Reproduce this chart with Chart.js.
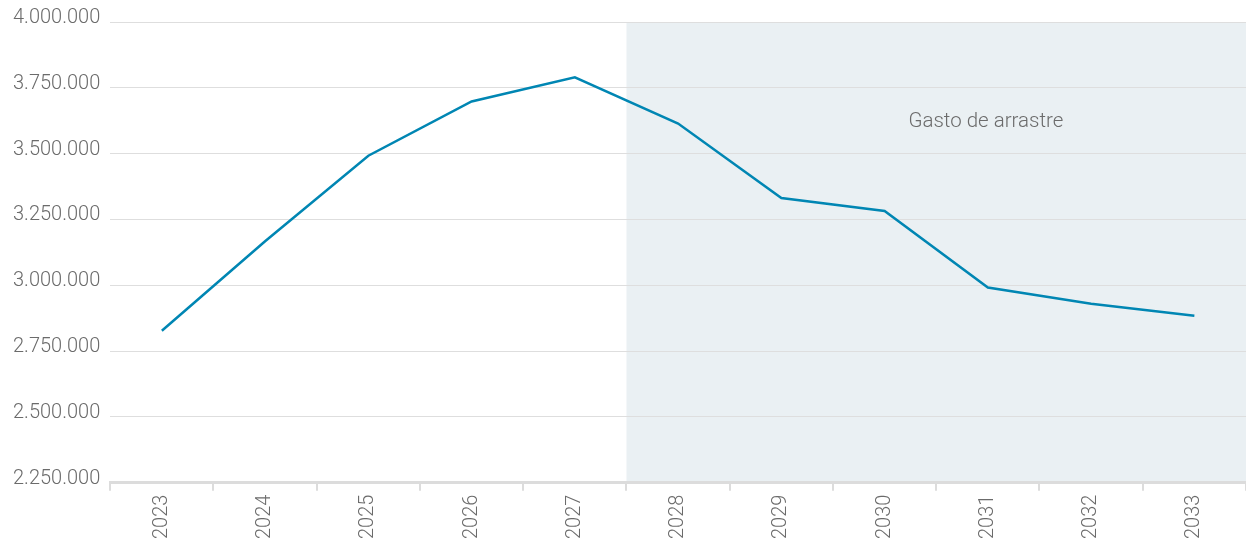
<!DOCTYPE html>
<html>
<head>
<meta charset="utf-8">
<script src="https://cdn.jsdelivr.net/npm/chart.js@4"></script>
<style>
    body{ margin:0; background:#fff; }
    #wrap{ width:1246px; height:546px; }
</style>
</head>
<body>
<div id="wrap"><canvas id="gasto" width="1246" height="546"></canvas></div>
<script>
// años
const years = ['2023','2024','2025','2026','2027','2028','2029','2030','2031','2032','2033'];
// gasto por año
const gasto = [2827000, 3167000, 3492000, 3698000, 3790000, 3614000, 3331000, 3282000, 2991000, 2930000, 2884000];
// escala vertical
const yMin = 2250000;
const yMax = 4000000;
const yStep = 250000;
// zona sombreada desde este año
const arrastreDesde = '2028';
const arrastreTexto = 'Gasto de arrastre';

const fmt = v => v.toLocaleString('de-DE');

// fondo gris del gasto de arrastre
const zonaArrastre = {
    id: 'zonaArrastre',
    beforeDraw(chart){
        const { ctx, chartArea, scales } = chart;
        const i = years.indexOf(arrastreDesde);
        const x0 = (scales.x.getPixelForValue(i - 1) + scales.x.getPixelForValue(i)) / 2;
        ctx.save();
        ctx.fillStyle = '#eaf0f3';
        ctx.fillRect(x0, chartArea.top, chartArea.right - x0, chartArea.bottom - chartArea.top);
        ctx.fillStyle = '#6b6b6b';
        ctx.font = '300 20.5px Roboto';
        ctx.textAlign = 'center';
        ctx.textBaseline = 'middle';
        ctx.fillText(arrastreTexto, scales.x.getPixelForValue(8) - 2, scales.y.getPixelForValue(3620000));
        ctx.restore();
    }
};

new Chart(document.getElementById('gasto'), {
    type: 'line',
    data: {
        labels: years,
        datasets: [{
            data: gasto,
            borderColor: '#0086b3',
            borderWidth: 2.5,
            pointRadius: 0,
            tension: 0,
        }]
    },
    options: {
        responsive: false,
        animation: false,
        layout: { padding: { top: 4, right: 0, left: 3, bottom: 3 } },
        plugins: {
            legend: { display: false },
            tooltip: { enabled: false },
        },
        scales: {
            x: {
                offset: true,
                grid: {
                    offset: true,
                    drawOnChartArea: false,
                    drawTicks: true,
                    tickLength: 8,
                    color: '#dcdcdc',
                    lineWidth: 2,
                },
                border: { color: '#dcdcdc', width: 3 },
                ticks: {
                    minRotation: 90,
                    maxRotation: 90,
                    padding: 4,
                    color: '#6b6b6b',
                    font: { family: 'Roboto', size: 20, weight: '300' },
                },
            },
            y: {
                min: yMin,
                max: yMax,
                grid: { color: '#dedede', drawTicks: false, lineWidth: 1 },
                border: { display: false },
                ticks: {
                    stepSize: yStep,
                    padding: 10,
                    labelOffset: -4,
                    color: '#6b6b6b',
                    font: { family: 'Roboto', size: 20, weight: '300' },
                    callback: v => fmt(v),
                },
            },
        },
    },
    plugins: [zonaArrastre],
});
</script>
</body>
</html>
